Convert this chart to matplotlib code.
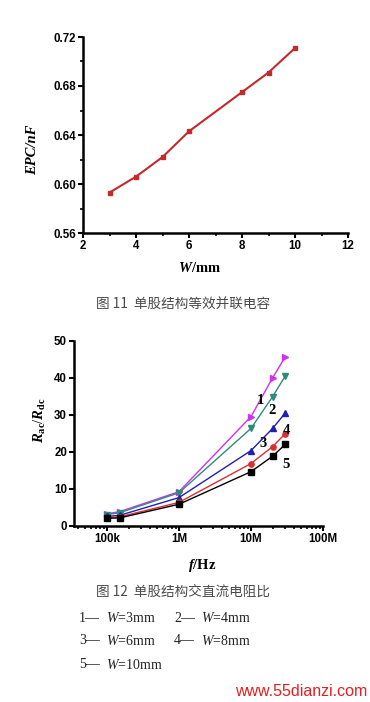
import matplotlib
matplotlib.use("Agg")
import matplotlib.pyplot as plt
from matplotlib.ticker import MultipleLocator, FixedLocator, LogLocator, NullFormatter

plt.rcParams["mathtext.fontset"] = "custom"
plt.rcParams["mathtext.rm"] = "Liberation Serif"
plt.rcParams["mathtext.it"] = "Liberation Serif:italic"
plt.rcParams["mathtext.bf"] = "Liberation Serif:bold"
plt.rcParams["mathtext.bfit"] = "Liberation Serif:bold:italic"

# ---- data: Fig 11 ----
w_mm = [3, 4, 5, 6, 8, 9, 10]
epc_nf = [0.593, 0.606, 0.622, 0.643, 0.675, 0.691, 0.711]

# ---- data: Fig 12 ----
freq_hz = [1e5, 1.5e5, 1e6, 1e7, 2e7, 3e7]
series_names = ["1", "2", "3", "4", "5"]
ratio_1 = [3.2, 3.8, 9.2, 29.5, 40.0, 45.7]
ratio_2 = [3.0, 3.5, 8.9, 26.3, 34.9, 40.5]
ratio_3 = [2.5, 2.8, 7.6, 20.3, 26.3, 30.5]
ratio_4 = [2.2, 2.4, 6.3, 16.8, 21.4, 24.9]
ratio_5 = [2.0, 2.1, 5.8, 14.6, 18.8, 22.0]
x_tick_vals = [1e5, 1e6, 1e7, 1e8]
x_tick_labels = ["100k", "1M", "10M", "100M"]
legend_rows = [["1\u2014", "3mm", "2\u2014", "4mm"],
               ["3\u2014", "6mm", "4\u2014", "8mm"],
               ["5\u2014", "10mm", None, None]]

W, H = 370, 702
fig = plt.figure(figsize=(W / 100, H / 100), dpi=100)
fig.patch.set_facecolor("white")

tick_font = dict(family="Liberation Sans", weight="bold", size=8.3)
serif = "Liberation Serif"
cjk = ["Noto Sans CJK SC", "DejaVu Sans"]

def fx(px):
    return px / W

def fy(py):
    return 1 - py / H

def style_axes(ax):
    for s in ["top", "right"]:
        ax.spines[s].set_visible(False)
    for s in ["left", "bottom"]:
        ax.spines[s].set_linewidth(1.8)
    ax.tick_params(which="major", direction="out", length=3.5, width=1.5, pad=1.5)
    ax.tick_params(which="minor", direction="out", length=2.0, width=1.2)
    for lab in ax.get_xticklabels() + ax.get_yticklabels():
        lab.set_fontfamily(tick_font["family"])
        lab.set_fontweight(tick_font["weight"])
        lab.set_fontsize(tick_font["size"])

# ---------- Fig 11 ----------
ax1 = fig.add_axes([fx(83), fy(233), fx(348 - 83), (233 - 37) / H])
ax1.plot(w_mm, epc_nf, color="#c42a2a", lw=1.5, marker="s", ms=3.5,
         markerfacecolor="#c42a2a", markeredgecolor="#c42a2a", clip_on=False)
ax1.set_xlim(2, 12)
ax1.set_ylim(0.56, 0.72)
ax1.xaxis.set_major_locator(MultipleLocator(2))
ax1.xaxis.set_minor_locator(MultipleLocator(1))
ax1.yaxis.set_minor_locator(MultipleLocator(0.02))
ax1.set_yticks([0.56, 0.60, 0.64, 0.68, 0.72])
ax1.set_yticklabels(["0.56", "0.60", "0.64", "0.68", "0.72"])
style_axes(ax1)

fig.text(fx(200), fy(268), r"$\mathbfit{W}$/mm", ha="center", va="center",
         fontsize=10.5, fontfamily=serif, fontweight="bold")
fig.text(fx(33), fy(150), "EPC/nF", ha="center", va="center", rotation=90,
         fontsize=10.5, fontfamily=serif, fontweight="bold", fontstyle="italic")
fig.text(fx(96), fy(304), "图 11  单股结构等效并联电容", ha="left", va="center",
         fontsize=9.8, family=cjk, color="#4a4a4a")

# ---------- Fig 12 ----------
ax2 = fig.add_axes([fx(74), fy(525.7), fx(323 - 74), (525.7 - 340.7) / H])
colors = ["#cc33ee", "#2e8b7a", "#1f1fb0", "#d83030", "#000000"]
markers = [">", "v", "^", "o", "s"]
series = [ratio_1, ratio_2, ratio_3, ratio_4, ratio_5]
for vals, c, m in zip(series, colors, markers):
    ax2.plot(freq_hz, vals, color=c, lw=1.0, marker=m, ms=3.8,
             markerfacecolor=c, markeredgecolor=c, clip_on=False)
ax2.set_xscale("log")
ax2.set_xlim(3.48e4, 1e8)
ax2.set_ylim(0, 50)
ax2.xaxis.set_major_locator(FixedLocator(x_tick_vals))
ax2.set_xticklabels(x_tick_labels)
ax2.xaxis.set_minor_locator(LogLocator(base=10, subs=range(2, 10)))
ax2.xaxis.set_minor_formatter(NullFormatter())
ax2.yaxis.set_major_locator(MultipleLocator(10))
style_axes(ax2)

# series number labels
label_pos = {"1": (260, 400), "2": (272, 410), "3": (263, 443),
             "4": (286, 431), "5": (286, 464)}
for name in series_names:
    px, py = label_pos[name]
    fig.text(fx(px), fy(py), name, ha="center", va="center", fontsize=10.5,
             fontfamily=serif, fontweight="bold")

fig.text(fx(202), fy(565), r"$\mathbfit{f}$/Hz", ha="center", va="center",
         fontsize=10.5, fontfamily=serif, fontweight="bold")
fig.text(fx(40), fy(420), r"$\mathbfit{R}_{\mathbf{ac}}/\mathbfit{R}_{\mathbf{dc}}$",
         ha="center", va="center", rotation=90, fontsize=10.5,
         fontfamily=serif, fontweight="bold")
fig.text(fx(96), fy(592), "图 12  单股结构交直流电阻比", ha="left", va="center",
         fontsize=9.8, family=cjk, color="#4a4a4a")

# legend text rows
row_y = [618, 641, 665]
col_x = [79, 174]
for ry, row in zip(row_y, legend_rows):
    for k in range(2):
        num, val = row[2 * k], row[2 * k + 1]
        if num is None:
            continue
        x0 = col_x[k]
        fig.text(fx(x0), fy(ry), num, ha="left", va="center", fontsize=10,
                 fontfamily=serif, color="#222222")
        fig.text(fx(x0 + 27), fy(ry), r"$\mathit{W}$=" + val, ha="left", va="center",
                 fontsize=10, fontfamily=serif, color="#222222")

# watermark
fig.text(fx(367), fy(691), "www.55dianzi.com", ha="right", va="center",
         fontsize=11.5, fontfamily="Liberation Sans", color="#e02020")

fig.savefig("out.png", dpi=100, facecolor="white")
